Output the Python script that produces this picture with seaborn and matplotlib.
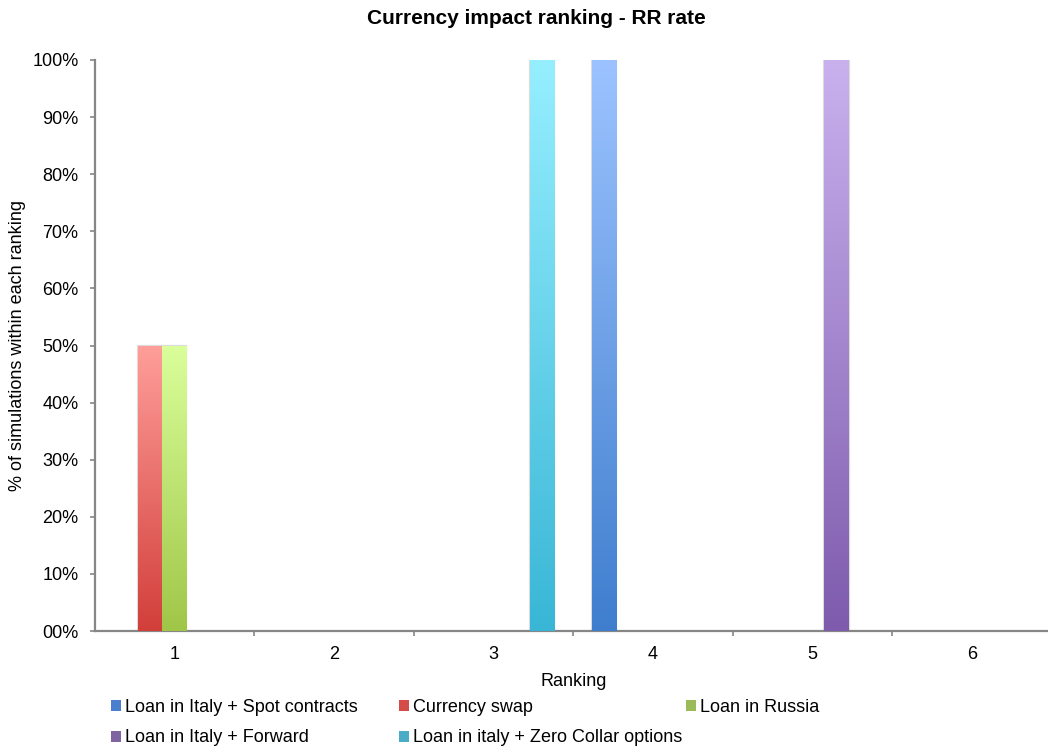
import numpy as np
import pandas as pd
import matplotlib
matplotlib.use("Agg")
import matplotlib.pyplot as plt
from matplotlib.colors import to_rgb
from matplotlib.patches import Patch
import seaborn as sns

categories = ["1", "2", "3", "4", "5", "6"]
series_names = [
    "Loan in Italy + Spot contracts",
    "Currency swap",
    "Loan in Russia",
    "Loan in Italy + Forward",
    "Loan in italy + Zero Collar options",
]
spot_contracts = [0.0, 0.0, 0.0, 1.0, 0.0, 0.0]
currency_swap = [0.5, 0.0, 0.0, 0.0, 0.0, 0.0]
loan_russia = [0.5, 0.0, 0.0, 0.0, 0.0, 0.0]
loan_forward = [0.0, 0.0, 0.0, 0.0, 1.0, 0.0]
zero_collar = [0.0, 0.0, 1.0, 0.0, 0.0, 0.0]
y_ticks = [0.0, 0.1, 0.2, 0.3, 0.4, 0.5, 0.6, 0.7, 0.8, 0.9, 1.0]

legend_colors = ["#4A7FCF", "#D44B47", "#9BBB59", "#8064A2", "#4BACC6"]
grad_top = ["#9CC3FF", "#FF9E9A", "#DAFF9B", "#C9B1EE", "#96EFFF"]
grad_bottom = ["#3F7ECE", "#D23F3A", "#A0C648", "#7E5BAD", "#39B6D6"]

values = [spot_contracts, currency_swap, loan_russia, loan_forward, zero_collar]
rows = []
for name, vals in zip(series_names, values):
    for c, v in zip(categories, vals):
        rows.append({"Ranking": c, "Series": name, "Value": v})
df = pd.DataFrame(rows)

sns.set_style("white")
plt.rcParams["font.family"] = ["Liberation Sans", "DejaVu Sans"]
plt.rcParams["text.color"] = "black"
plt.rcParams["axes.labelcolor"] = "black"
plt.rcParams["xtick.color"] = "black"
plt.rcParams["ytick.color"] = "black"

W, H = 1048, 755
fig = plt.figure(figsize=(W / 100, H / 100), dpi=100)
ax = fig.add_axes([94.5 / W, (H - 631) / H, 957 / W, 571 / H])

sns.barplot(data=df, x="Ranking", y="Value", hue="Series", order=categories,
            hue_order=series_names, palette=legend_colors, width=0.76,
            errorbar=None, dodge=True, ax=ax, legend=False, saturation=1)

for cont, top, bot in zip(ax.containers, grad_top, grad_bottom):
    t = np.array(to_rgb(top))
    b = np.array(to_rgb(bot))
    for p in cont.patches:
        h = p.get_height()
        if h <= 0:
            p.set_visible(False)
            continue
        x0 = p.get_x()
        w = p.get_width()
        n = 256
        frac = np.linspace(0, 1, n)[:, None]
        grad = (t[None, :] * (1 - frac) + b[None, :] * frac)[:, None, :]
        p.set_facecolor("none")
        p.set_edgecolor("#dcdcdc")
        p.set_linewidth(1.6)
        im = ax.imshow(grad, extent=[x0, x0 + w, 0, h], aspect="auto",
                       origin="upper", zorder=3, interpolation="bilinear")
        im.set_clip_path(p)

ax.set_xlim(-0.5, 5.5)
ax.set_ylim(0, 1.0)
ax.set_yticks(y_ticks)
ax.set_yticklabels([f"{v * 100:02.0f}%" for v in y_ticks])
ax.set_xticks(range(len(categories)))
ax.set_xticklabels(categories)
ax.set_xticks([i + 0.5 for i in range(len(categories) - 1)], minor=True)

for s in ["top", "right"]:
    ax.spines[s].set_visible(False)
for s in ["left", "bottom"]:
    ax.spines[s].set_color("#868686")
    ax.spines[s].set_linewidth(1.6)

ax.tick_params(axis="y", which="major", direction="out", length=3.6, width=1.2,
               color="#868686", labelsize=13, pad=8, left=True, labelcolor="black")
ax.tick_params(axis="x", which="major", length=0, labelsize=13, pad=11,
               labelcolor="black")
ax.tick_params(axis="x", which="minor", direction="out", length=3.6, width=1.2,
               color="#868686", bottom=True)

ax.set_xlabel("")
ax.set_ylabel("")
fig.text(574 / W, 1 - 681 / H, "Ranking", ha="center", va="center", fontsize=13,
         color="black")
fig.text(18 / W, 1 - 345.5 / H, "% of simulations within each ranking",
         ha="center", va="center", rotation=90, fontsize=13, color="black")
fig.text(536 / W, 1 - 18 / H, "Currency impact ranking - RR rate", ha="center",
         va="center", fontsize=15, fontweight="bold", color="black")

# legend entries laid out in Excel-style fixed columns
leg_x = [111, 399, 686, 111, 399]
leg_y = [707, 707, 707, 738, 738]
for i, name in enumerate(series_names):
    h = Patch(facecolor=legend_colors[i], edgecolor="none")
    leg = fig.legend([h], [name], loc="center left",
                     bbox_to_anchor=(leg_x[i] / W, 1 - leg_y[i] / H),
                     frameon=False, fontsize=13, handlelength=0.55, handleheight=0.55,
                     handletextpad=0.2, borderpad=0, borderaxespad=0)
    for txt in leg.get_texts():
        txt.set_color("black")

fig.savefig("out.png", dpi=100, facecolor="white")
